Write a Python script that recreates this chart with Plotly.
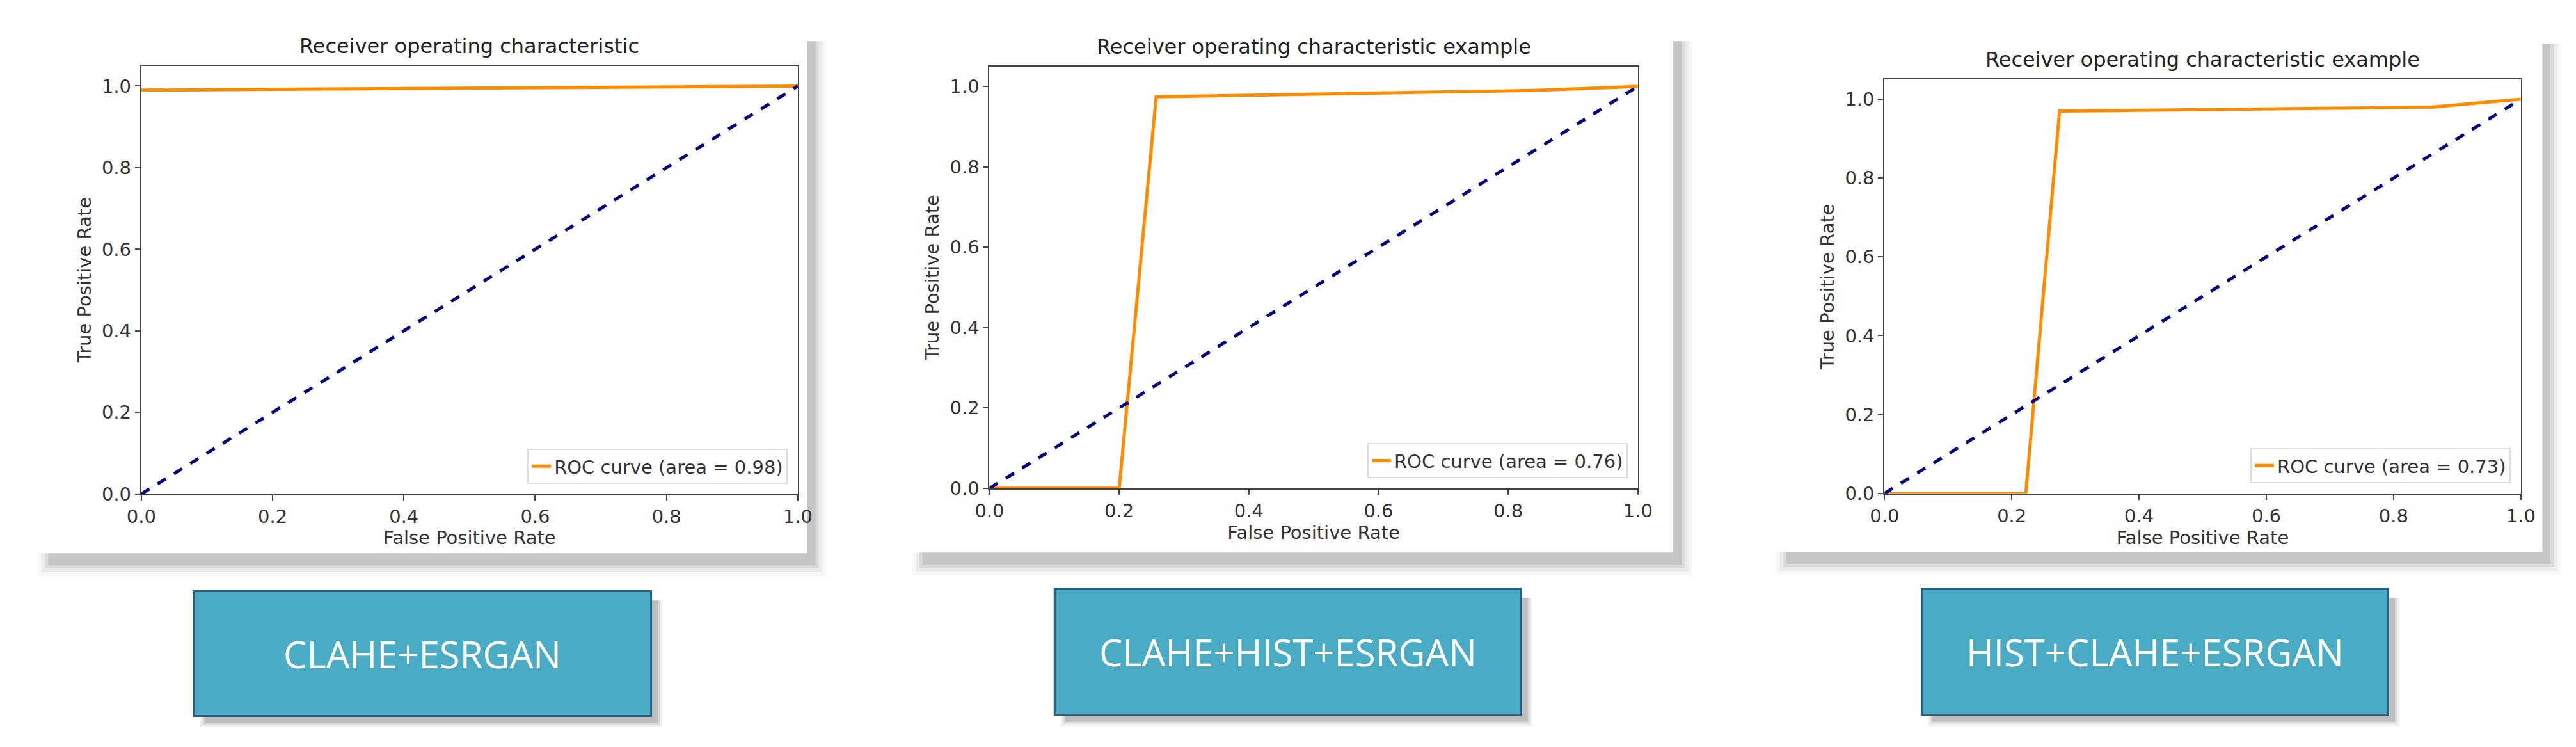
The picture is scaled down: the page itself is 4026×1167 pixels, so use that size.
import plotly.graph_objects as go

W, H = 4026, 1167
titles = ["Receiver operating characteristic",
          "Receiver operating characteristic example",
          "Receiver operating characteristic example"]
labels = ["CLAHE+ESRGAN", "CLAHE+HIST+ESRGAN", "HIST+CLAHE+ESRGAN"]
aucs = [0.98, 0.76, 0.73]
fpr1 = [0.0, 1.0]
tpr1 = [0.99, 1.0]
fpr2 = [0.0, 0.2, 0.257, 0.84, 1.0]
tpr2 = [0.0, 0.0, 0.974, 0.99, 1.0]
fpr3 = [0.0, 0.222, 0.275, 0.86, 1.0]
tpr3 = [0.0, 0.0, 0.97, 0.98, 1.0]
diag = [0.0, 1.0]
tickvals = [0.0, 0.2, 0.4, 0.6, 0.8, 1.0]

fprs = [fpr1, fpr2, fpr3]
tprs = [tpr1, tpr2, tpr3]

plots = [(192, 1230, 96, 775), (1533, 2558, 97, 766), (2948, 3954, 118, 774)]
cards = [(20, 1245, 37, 869), (1402, 2614, 37, 868), (2768, 3988, 41, 867)]
boxes = [(275, 998, 929, 1127), (1636, 2373, 925, 1125), (3007, 3744, 925, 1125)]

def px(x): return x / W
def py(y): return 1 - y / H

fig = go.Figure()
shapes, annotations = [], []
FONT = "DejaVu Sans"
for i in range(3):
    cx0, cx1, cy0, cy1 = cards[i]
    for k, op in [(22, 0.04), (16, 0.06), (10, 0.09), (5, 0.12)]:
        shapes.append(dict(type="rect", xref="paper", yref="paper", layer="below",
                           x0=px(cx0 + 30 - k), x1=px(cx1 + 8 + k), y0=py(cy1 + 14 + k), y1=py(cy0 + 20),
                           fillcolor=f"rgba(50,50,50,{op})", line=dict(width=0)))
    shapes.append(dict(type="rect", xref="paper", yref="paper", layer="below",
                       x0=px(cx0), x1=px(cx1), y0=py(cy1), y1=py(cy0),
                       fillcolor="white", line=dict(width=0)))
    bx0, bx1, by0, by1 = boxes[i]
    for k, op in [(10, 0.08), (6, 0.12), (3, 0.15)]:
        shapes.append(dict(type="rect", xref="paper", yref="paper", layer="below",
                           x0=px(bx0 + 20 - k), x1=px(bx1 + 8 + k), y0=py(by1 + 8 + k), y1=py(by0 + 15),
                           fillcolor=f"rgba(50,50,50,{op})", line=dict(width=0)))
    shapes.append(dict(type="rect", xref="paper", yref="paper", layer="below",
                       x0=px(bx0), x1=px(bx1), y0=py(by1), y1=py(by0),
                       fillcolor="#4aabc5", line=dict(color="#2f5f80", width=3)))
    annotations.append(dict(xref="paper", yref="paper", x=px((bx0 + bx1) / 2), y=py((by0 + by1) / 2),
                            xanchor="center", yanchor="middle",
                            text=labels[i], showarrow=False,
                            font=dict(family="Open Sans", size=58, color="white")))
    x0, x1, y0, y1 = plots[i]
    sfx = "" if i == 0 else str(i + 1)
    annotations.append(dict(xref="paper", yref="paper", x=px((x0 + x1) / 2), y=py(y0 - 10),
                            xanchor="center", yanchor="bottom", text=titles[i], showarrow=False,
                            font=dict(family=FONT, size=32, color="#222")))
    ax = dict(showgrid=False, zeroline=False, showline=True, mirror=True, linecolor="#444", linewidth=2,
              ticks="outside", ticklen=8, tickwidth=2, tickcolor="#444", tickvals=tickvals,
              tickformat=".1f", tickfont=dict(family=FONT, size=29, color="#333"))
    fig.update_layout(**{
        "xaxis" + sfx: dict(ax, domain=[px(x0), px(x1)], range=[0, 1], anchor="y" + sfx,
                            title=dict(text="False Positive Rate", standoff=4,
                                       font=dict(family=FONT, size=29, color="#333"))),
        "yaxis" + sfx: dict(ax, domain=[py(y1), py(y0)], range=[0, 1.05], anchor="x" + sfx,
                            title=dict(text="True Positive Rate", standoff=8,
                                       font=dict(family=FONT, size=29, color="#333"))),
        "legend" + sfx: dict(x=px(x1 - 16), y=py(y1 - 16), xanchor="right", yanchor="bottom",
                             xref="paper", yref="paper", bgcolor="white", bordercolor="#ddd", borderwidth=2,
                             font=dict(family=FONT, size=29, color="#333")),
    })
    fig.add_trace(go.Scatter(x=fprs[i], y=tprs[i], mode="lines", line=dict(color="darkorange", width=5),
                             name=f"ROC curve (area = {aucs[i]:.2f})", xaxis="x" + sfx, yaxis="y" + sfx,
                             legend="legend" + sfx, cliponaxis=False))
    fig.add_trace(go.Scatter(x=diag, y=diag, mode="lines", line=dict(color="navy", width=5, dash="dash"),
                             showlegend=False, xaxis="x" + sfx, yaxis="y" + sfx, cliponaxis=False))

fig.update_layout(width=W, height=H, margin=dict(l=0, r=0, t=0, b=0), paper_bgcolor="white",
                  plot_bgcolor="white", shapes=shapes, annotations=annotations, showlegend=True)
fig.write_html("out.html")
